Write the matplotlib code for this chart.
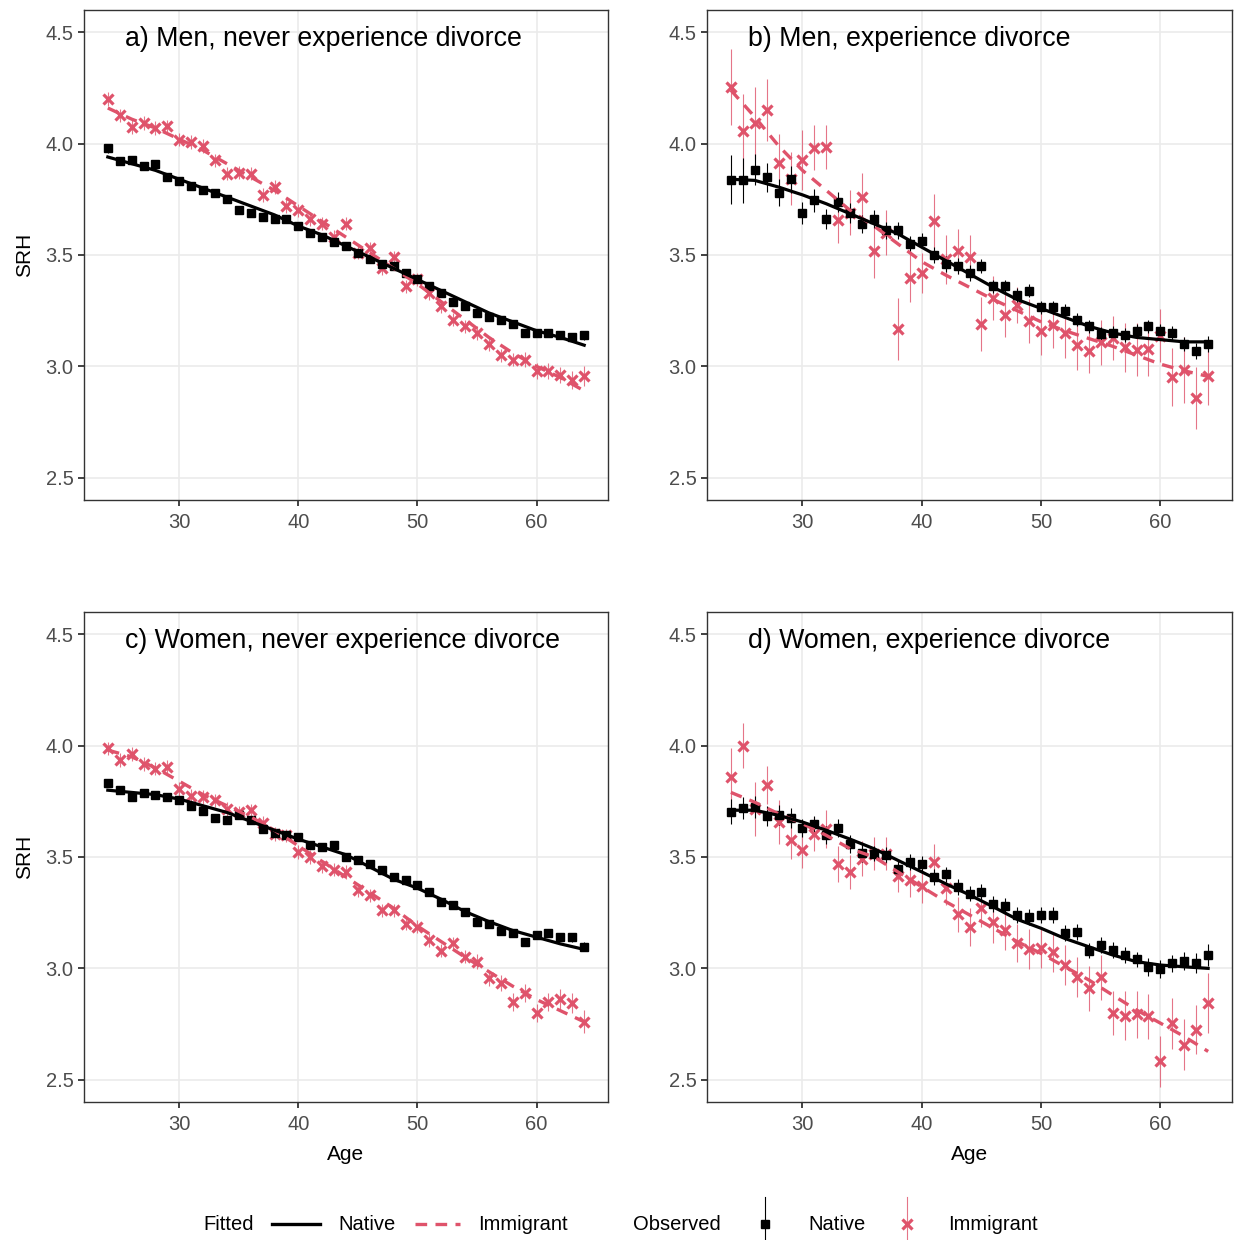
import matplotlib
matplotlib.use("Agg")
import matplotlib.pyplot as plt
from matplotlib.lines import Line2D
import numpy as np

plt.rcParams['font.family'] = ['Liberation Sans', 'DejaVu Sans']

PINK = '#DF536B'

ages = list(range(24, 65))
fit_ages = list(range(24, 65, 2))

# a) Men, never experience divorce
a_nat = [3.98, 3.92, 3.925, 3.90, 3.91, 3.85, 3.83, 3.81, 3.79, 3.78, 3.75, 3.70, 3.69, 3.67, 3.66, 3.66,
         3.63, 3.60, 3.58, 3.56, 3.54, 3.51, 3.48, 3.46, 3.45, 3.42, 3.39, 3.36, 3.33, 3.29, 3.27, 3.24,
         3.22, 3.21, 3.19, 3.15, 3.15, 3.15, 3.14, 3.13, 3.14]
a_nat_err = [0.02, 0.015, 0.015, 0.015, 0.015, 0.015, 0.015, 0.015, 0.015, 0.015, 0.015, 0.015, 0.015, 0.015,
             0.015, 0.015, 0.015, 0.015, 0.015, 0.015, 0.015, 0.015, 0.015, 0.015, 0.015, 0.015, 0.015, 0.015,
             0.015, 0.015, 0.015, 0.015, 0.015, 0.015, 0.015, 0.015, 0.015, 0.015, 0.015, 0.02, 0.02]
a_imm = [4.20, 4.127, 4.075, 4.093, 4.07, 4.078, 4.018, 4.007, 3.99, 3.925, 3.865, 3.87, 3.865, 3.77, 3.805,
         3.72, 3.70, 3.66, 3.64, 3.58, 3.64, 3.51, 3.53, 3.44, 3.49, 3.36, 3.39, 3.33, 3.27, 3.21, 3.18,
         3.15, 3.10, 3.05, 3.03, 3.03, 2.98, 2.98, 2.96, 2.94, 2.955]
a_imm_err = [0.03, 0.03, 0.03, 0.03, 0.03, 0.03, 0.03, 0.03, 0.03, 0.03, 0.03, 0.03, 0.03, 0.03, 0.03,
             0.03, 0.03, 0.03, 0.03, 0.03, 0.03, 0.03, 0.03, 0.03, 0.03, 0.03, 0.03, 0.03, 0.03, 0.03, 0.03,
             0.03, 0.03, 0.03, 0.03, 0.035, 0.035, 0.035, 0.035, 0.04, 0.045]
a_nat_fit = [3.94, 3.91, 3.88, 3.84, 3.80, 3.76, 3.72, 3.68, 3.63, 3.59, 3.54, 3.49, 3.44, 3.39, 3.34,
             3.29, 3.24, 3.20, 3.16, 3.13, 3.095]
a_imm_fit = [4.16, 4.11, 4.07, 4.02, 3.97, 3.91, 3.85, 3.79, 3.72, 3.65, 3.58, 3.51, 3.44, 3.37, 3.29,
             3.21, 3.13, 3.06, 3.00, 2.95, 2.89]

# b) Men, experience divorce
b_nat = [3.838, 3.835, 3.883, 3.85, 3.78, 3.84, 3.69, 3.745, 3.66, 3.74, 3.69, 3.64, 3.66, 3.61, 3.61,
         3.55, 3.565, 3.50, 3.46, 3.45, 3.42, 3.45, 3.36, 3.36, 3.32, 3.34, 3.265, 3.265, 3.25, 3.21, 3.18,
         3.145, 3.15, 3.14, 3.16, 3.18, 3.16, 3.15, 3.10, 3.07, 3.10]
b_nat_err = [0.11, 0.10, 0.07, 0.065, 0.06, 0.06, 0.05, 0.05, 0.045, 0.045, 0.045, 0.04, 0.04, 0.04, 0.04,
             0.035, 0.035, 0.035, 0.035, 0.035, 0.035, 0.03, 0.03, 0.03, 0.03, 0.03, 0.03, 0.03, 0.03, 0.03,
             0.03, 0.03, 0.03, 0.03, 0.03, 0.03, 0.03, 0.03, 0.03, 0.035, 0.035]
b_imm = [4.254, 4.055, 4.093, 4.15, 3.913, 3.843, 3.928, 3.982, 3.985, 3.656, 3.69, 3.76, 3.516, 3.60, 3.169,
         3.398, 3.42, 3.653, 3.48, 3.516, 3.49, 3.19, 3.307, 3.23, 3.275, 3.204, 3.16, 3.184, 3.148, 3.094,
         3.07, 3.108, 3.127, 3.085, 3.075, 3.078, 3.138, 2.954, 2.984, 2.858, 2.958]
b_imm_err = [0.17, 0.17, 0.16, 0.14, 0.13, 0.12, 0.135, 0.10, 0.10, 0.10, 0.10, 0.11, 0.12, 0.10, 0.14,
             0.11, 0.09, 0.12, 0.11, 0.10, 0.10, 0.12, 0.10, 0.10, 0.08, 0.10, 0.11, 0.10, 0.11, 0.11, 0.10,
             0.10, 0.10, 0.11, 0.12, 0.12, 0.12, 0.13, 0.15, 0.14, 0.13]
b_nat_fit = [3.84, 3.835, 3.805, 3.77, 3.73, 3.685, 3.64, 3.595, 3.535, 3.475, 3.415, 3.355, 3.30, 3.26,
             3.22, 3.18, 3.15, 3.13, 3.12, 3.11, 3.11]
b_imm_fit = [4.24, 4.12, 3.99, 3.88, 3.79, 3.70, 3.63, 3.55, 3.47, 3.41, 3.355, 3.30, 3.25, 3.20, 3.16,
             3.125, 3.09, 3.05, 3.01, 2.98, 2.955]

# c) Women, never experience divorce
c_nat = [3.833, 3.80, 3.77, 3.787, 3.78, 3.77, 3.754, 3.73, 3.706, 3.676, 3.664, 3.69, 3.664, 3.627, 3.61,
         3.60, 3.59, 3.552, 3.545, 3.552, 3.50, 3.485, 3.47, 3.443, 3.41, 3.395, 3.373, 3.343, 3.30, 3.284,
         3.254, 3.21, 3.20, 3.17, 3.16, 3.12, 3.15, 3.16, 3.14, 3.14, 3.097]
c_nat_err = [0.015, 0.015, 0.015, 0.015, 0.015, 0.015, 0.015, 0.015, 0.015, 0.015, 0.015, 0.015, 0.015, 0.015,
             0.015, 0.015, 0.015, 0.015, 0.015, 0.015, 0.015, 0.015, 0.015, 0.015, 0.015, 0.015, 0.015, 0.015,
             0.015, 0.015, 0.015, 0.015, 0.015, 0.015, 0.015, 0.015, 0.015, 0.015, 0.015, 0.02, 0.02]
c_imm = [3.988, 3.936, 3.963, 3.918, 3.896, 3.906, 3.806, 3.776, 3.77, 3.754, 3.716, 3.70, 3.71, 3.652, 3.604,
         3.597, 3.522, 3.50, 3.458, 3.443, 3.433, 3.35, 3.328, 3.26, 3.26, 3.20, 3.187, 3.127, 3.08, 3.112,
         3.052, 3.03, 2.955, 2.933, 2.85, 2.888, 2.80, 2.85, 2.861, 2.843, 2.761]
c_imm_err = [0.03, 0.03, 0.03, 0.03, 0.03, 0.03, 0.03, 0.03, 0.03, 0.03, 0.03, 0.03, 0.03, 0.03, 0.03,
             0.03, 0.03, 0.03, 0.03, 0.03, 0.03, 0.03, 0.03, 0.03, 0.03, 0.03, 0.03, 0.03, 0.03, 0.03, 0.03,
             0.035, 0.035, 0.035, 0.04, 0.04, 0.04, 0.04, 0.045, 0.045, 0.05]
c_nat_fit = [3.80, 3.79, 3.78, 3.76, 3.73, 3.70, 3.66, 3.62, 3.58, 3.545, 3.51, 3.455, 3.40, 3.36, 3.31,
             3.255, 3.21, 3.17, 3.14, 3.11, 3.085]
c_imm_fit = [3.98, 3.95, 3.90, 3.84, 3.78, 3.73, 3.68, 3.62, 3.55, 3.48, 3.41, 3.34, 3.27, 3.19, 3.12,
             3.05, 2.985, 2.92, 2.86, 2.81, 2.76]

# d) Women, experience divorce
d_nat = [3.704, 3.72, 3.724, 3.682, 3.687, 3.676, 3.63, 3.646, 3.597, 3.63, 3.56, 3.518, 3.515, 3.51, 3.448,
         3.478, 3.47, 3.41, 3.422, 3.366, 3.336, 3.343, 3.29, 3.28, 3.24, 3.23, 3.24, 3.24, 3.16, 3.164,
         3.08, 3.104, 3.082, 3.06, 3.04, 3.007, 2.996, 3.022, 3.033, 3.025, 3.06]
d_nat_err = [0.055, 0.05, 0.05, 0.045, 0.045, 0.045, 0.04, 0.04, 0.04, 0.04, 0.04, 0.04, 0.035, 0.035, 0.035,
             0.035, 0.035, 0.035, 0.035, 0.035, 0.035, 0.035, 0.035, 0.035, 0.035, 0.035, 0.035, 0.035, 0.035,
             0.035, 0.035, 0.035, 0.035, 0.035, 0.035, 0.04, 0.04, 0.04, 0.04, 0.045, 0.05]
d_imm = [3.858, 4.00, 3.716, 3.824, 3.657, 3.575, 3.53, 3.604, 3.627, 3.47, 3.433, 3.493, 3.515, 3.515, 3.413,
         3.395, 3.37, 3.478, 3.363, 3.242, 3.184, 3.27, 3.206, 3.173, 3.112, 3.085, 3.09, 3.075, 3.015, 2.96,
         2.91, 2.96, 2.80, 2.787, 2.794, 2.784, 2.582, 2.754, 2.657, 2.724, 2.843]
d_imm_err = [0.13, 0.10, 0.12, 0.085, 0.10, 0.085, 0.08, 0.075, 0.085, 0.08, 0.075, 0.08, 0.075, 0.075, 0.07,
             0.075, 0.075, 0.08, 0.08, 0.08, 0.085, 0.085, 0.09, 0.09, 0.085, 0.09, 0.09, 0.09, 0.09, 0.09,
             0.10, 0.10, 0.10, 0.11, 0.105, 0.10, 0.115, 0.115, 0.115, 0.11, 0.135]
d_nat_fit = [3.71, 3.71, 3.687, 3.657, 3.62, 3.58, 3.537, 3.485, 3.433, 3.38, 3.33, 3.276, 3.22, 3.18, 3.134,
             3.097, 3.06, 3.03, 3.015, 3.007, 3.00]
d_imm_fit = [3.79, 3.746, 3.694, 3.65, 3.597, 3.537, 3.50, 3.433, 3.366, 3.30, 3.24, 3.18, 3.12, 3.067, 3.007,
             2.948, 2.88, 2.813, 2.754, 2.694, 2.627]

panels = [
    ("a) Men, never experience divorce", a_nat, a_nat_err, a_imm, a_imm_err, a_nat_fit, a_imm_fit),
    ("b) Men, experience divorce", b_nat, b_nat_err, b_imm, b_imm_err, b_nat_fit, b_imm_fit),
    ("c) Women, never experience divorce", c_nat, c_nat_err, c_imm, c_imm_err, c_nat_fit, c_imm_fit),
    ("d) Women, experience divorce", d_nat, d_nat_err, d_imm, d_imm_err, d_nat_fit, d_imm_fit),
]

W, H = 1236, 1240
fig = plt.figure(figsize=(W / 100, H / 100), dpi=100)

def box(x0, y0, x1, y1):
    return [x0 / W, 1 - y1 / H, (x1 - x0) / W, (y1 - y0) / H]

boxes = [box(84, 10, 608, 500), box(707, 10, 1232, 500),
         box(84, 612, 608, 1102), box(707, 612, 1232, 1102)]

for i, (title, nat, nat_e, imm, imm_e, nat_f, imm_f) in enumerate(panels):
    ax = fig.add_axes(boxes[i])
    ax.errorbar(ages, imm, yerr=imm_e, fmt='none', ecolor=PINK, elinewidth=0.8, alpha=0.8, zorder=2)
    ax.errorbar(ages, nat, yerr=nat_e, fmt='none', ecolor='black', elinewidth=0.8, zorder=2)
    ax.plot(ages, imm, 'x', color=PINK, ms=7.5, mew=2.3, zorder=3)
    ax.plot(ages, nat, 's', color='black', ms=5.5, zorder=3)
    ax.plot(fit_ages, imm_f, color=PINK, lw=2.4, dashes=(3.5, 2.5), zorder=4)
    ax.plot(fit_ages, nat_f, color='black', lw=2.3, zorder=4)
    ax.set_xlim(22, 66)
    ax.set_ylim(2.4, 4.6)
    ax.set_xticks([30, 40, 50, 60])
    ax.set_yticks([2.5, 3.0, 3.5, 4.0, 4.5])
    ax.set_yticklabels(['2.5', '3.0', '3.5', '4.0', '4.5'])
    ax.grid(True, color='#EBEBEB', lw=1.2)
    ax.set_axisbelow(True)
    for s in ax.spines.values():
        s.set_color('#333333')
        s.set_linewidth(1.0)
    ax.tick_params(direction='out', length=4.5, width=1.3, color='#333333',
                   labelsize=14.5, labelcolor='#4D4D4D', pad=3)
    ax.tick_params(axis='x', pad=5)
    ax.text(0.078, 0.968, title, transform=ax.transAxes, fontsize=19.3, va='top', ha='left', color='black')
    if i % 2 == 0:
        ax.set_ylabel('SRH', fontsize=15, labelpad=8)
    if i >= 2:
        ax.set_xlabel('Age', fontsize=15, labelpad=8)

# legend drawn at the bottom
def fx(x):
    return x / W

def fy(y):
    return 1 - y / H

ly = 1224
lab = dict(fontsize=14.5, va='center', ha='left', color='black')
fig.text(fx(203), fy(ly), 'Fitted', **lab)
fig.add_artist(Line2D([fx(272), fx(320)], [fy(ly), fy(ly)], color='black', lw=2.4))
fig.text(fx(338), fy(ly), 'Native', **lab)
fig.add_artist(Line2D([fx(415), fx(460)], [fy(ly), fy(ly)], color=PINK, lw=2.4, dashes=(3.5, 2.5)))
fig.text(fx(478), fy(ly), 'Immigrant', **lab)
fig.text(fx(633), fy(ly), 'Observed', **lab)
fig.add_artist(Line2D([fx(765), fx(765)], [fy(1197), fy(1240)], color='black', lw=0.8))
fig.add_artist(Line2D([fx(765)], [fy(ly)], marker='s', color='black', ms=5.5, ls='none'))
fig.text(fx(808), fy(ly), 'Native', **lab)
fig.add_artist(Line2D([fx(907), fx(907)], [fy(1197), fy(1240)], color=PINK, lw=0.8, alpha=0.8))
fig.add_artist(Line2D([fx(907)], [fy(ly)], marker='x', color=PINK, ms=7.5, mew=2.3, ls='none'))
fig.text(fx(948), fy(ly), 'Immigrant', **lab)

fig.savefig('out.png', dpi=100, facecolor='white')
